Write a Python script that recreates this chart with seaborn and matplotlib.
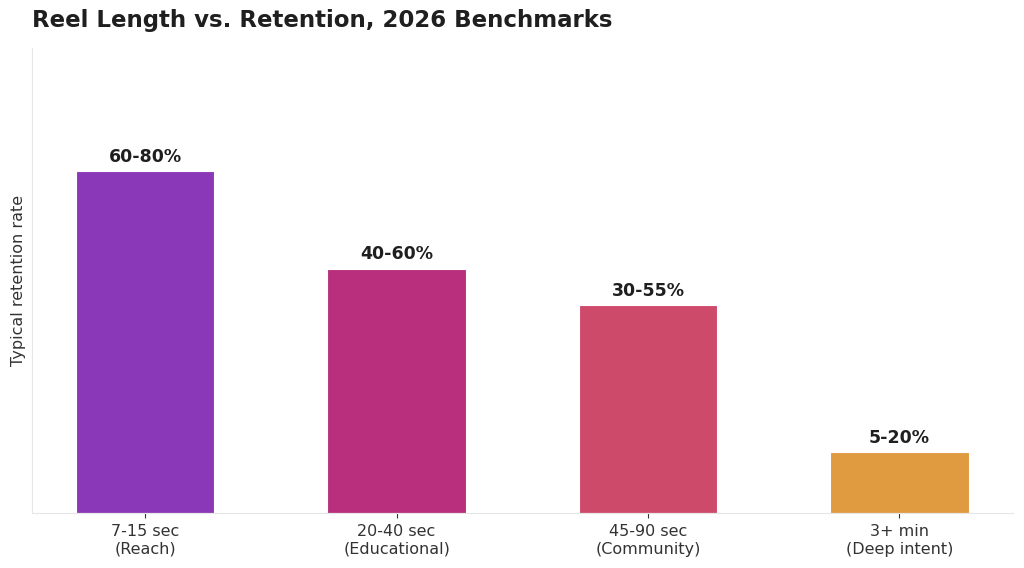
import numpy as np
import pandas as pd
import seaborn as sns
import matplotlib.pyplot as plt

# data
categories = ["7-15 sec\n(Reach)", "20-40 sec\n(Educational)", "45-90 sec\n(Community)", "3+ min\n(Deep intent)"]
low = [60, 40, 30, 5]
high = [80, 60, 55, 20]
colors = ["#8A38B7", "#B92F7D", "#CE4A6A", "#E09A3F"]

sns.set_theme(style="white")
plt.rcParams['font.family'] = ['DejaVu Sans']

df = pd.DataFrame({"category": categories, "low": low, "high": high})
df["mid"] = (df["low"] + df["high"]) / 2
df["label"] = [f"{a}-{b}%" for a, b in zip(low, high)]

fig = plt.figure(figsize=(10.24, 5.68), dpi=100)
ax = fig.add_axes([0.0313, 0.0968, 0.9575, 0.8187])

sns.barplot(data=df, x="category", y="mid", hue="category", palette=colors,
            legend=False, width=0.55, edgecolor="white", linewidth=0.8, saturation=1, ax=ax)

#value labels
for i, row in df.iterrows():
    ax.text(i, row["mid"] + 1.1, row["label"], ha="center", va="bottom",
            fontsize=12.5, fontweight="bold", color="#1f1f1f")

ax.set_ylim(0, 95.2)
ax.set_xlim(-0.45, 3.45)
ax.set_yticks([])
ax.set_xlabel("")
ax.set_ylabel("Typical retention rate", fontsize=11.5, color="#333333")
ax.tick_params(axis="x", labelsize=11.5, colors="#333333", length=3.5, width=0.8, pad=4.5, bottom=True)
for side in ["top", "right"]:
    ax.spines[side].set_visible(False)
for side in ["left", "bottom"]:
    ax.spines[side].set_color("#e6e6e6")
    ax.spines[side].set_linewidth(0.8)

ax.set_title("Reel Length vs. Retention, 2026 Benchmarks", loc="left",
             fontsize=16.5, fontweight="bold", color="#1f1f1f", pad=15)

fig.savefig("out.png", dpi=100)
